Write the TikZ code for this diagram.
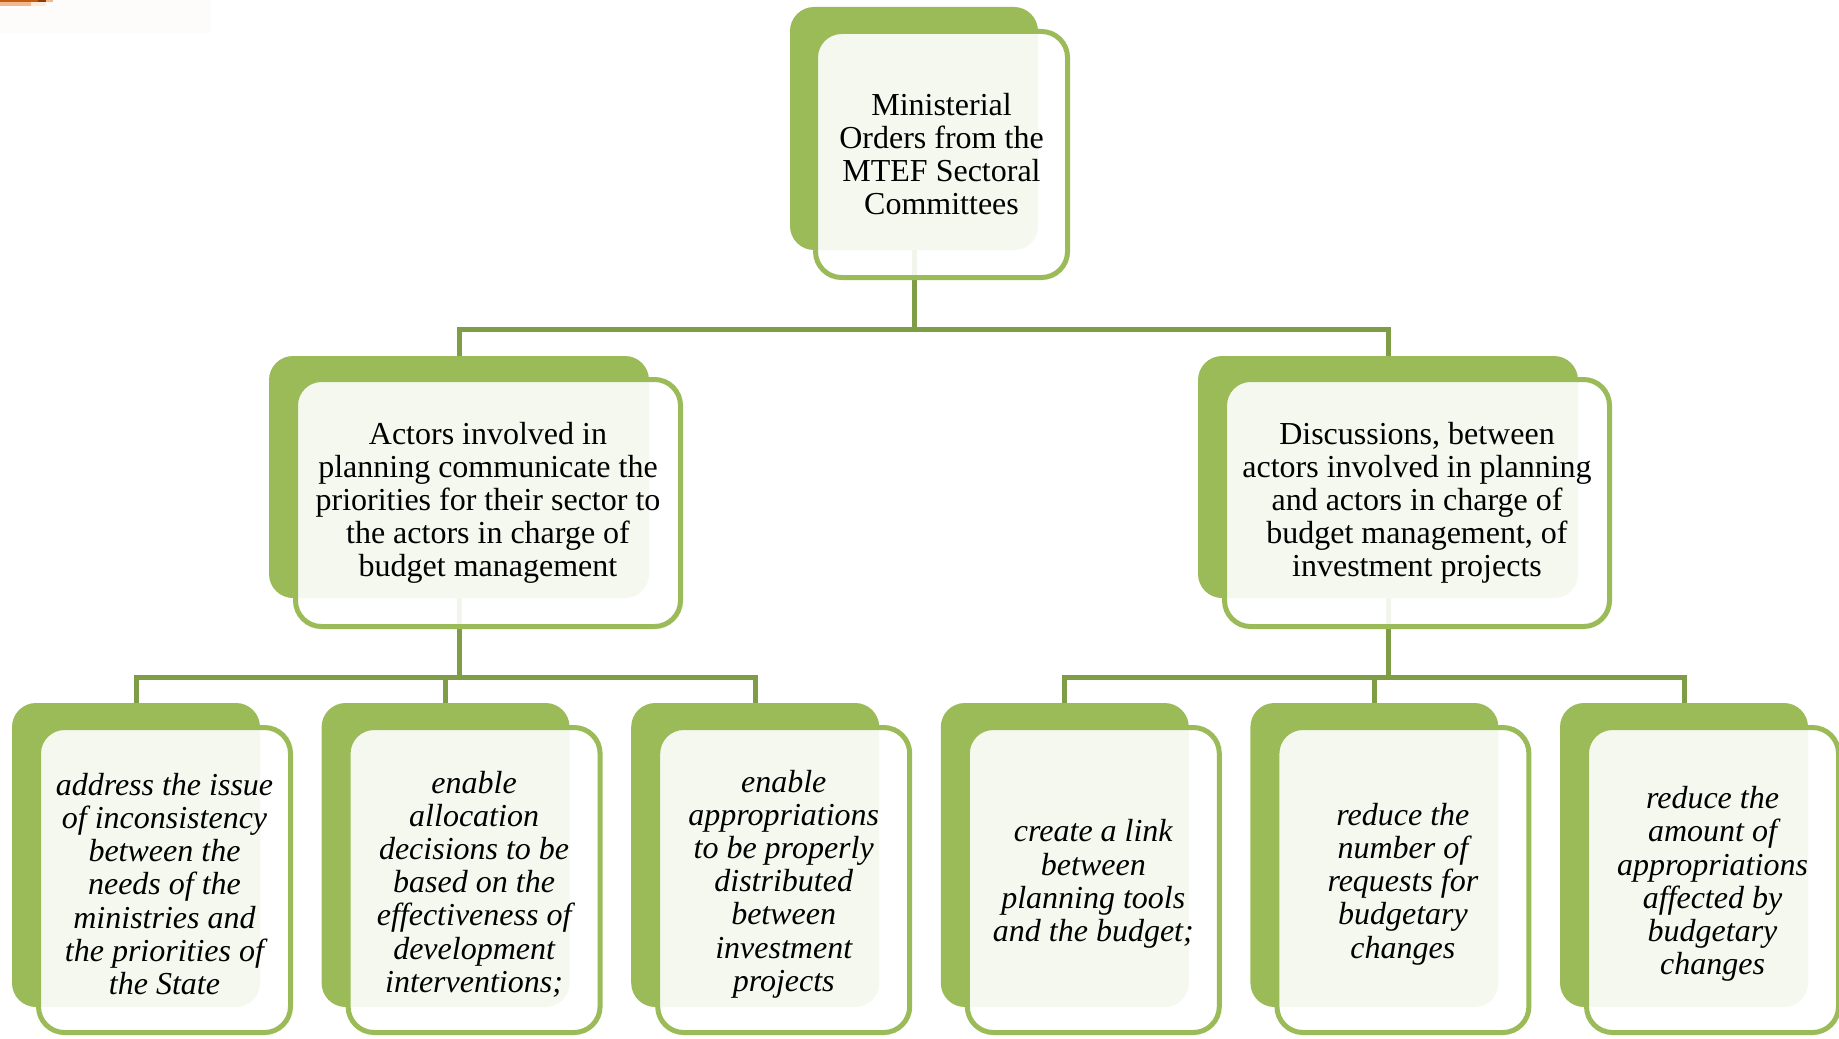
\documentclass[tikz,border=0pt]{standalone}
\usepackage{fontspec}
\setmainfont{Liberation Serif}
\usetikzlibrary{backgrounds}
\definecolor{leafgreen}{HTML}{9BBB59}
\definecolor{linkgreen}{HTML}{7F9C47}
\definecolor{paper}{HTML}{FDFCFA}
\definecolor{rust}{HTML}{C55A11}
\definecolor{rustdark}{HTML}{8A3E0E}
\definecolor{peach}{HTML}{F2B98E}
\definecolor{cream}{HTML}{FBEBD8}
\tikzset{
  back/.style={rectangle, rounded corners=12pt, fill=leafgreen,
    inner sep=0pt, outer sep=0pt, anchor=north west},
  card/.style={rectangle, rounded corners=13pt, draw=leafgreen, line width=2.5pt,
    fill=white, fill opacity=0.9, text opacity=1, draw opacity=1,
    inner sep=0pt, outer sep=0pt, anchor=north west, align=center,
    font=\fontsize{16pt}{16.5pt}\selectfont},
  cardtext/.style={inner sep=0pt, align=center,
    font=\fontsize{16pt}{16.6pt}\selectfont\itshape},
  topback/.style={back, minimum width=124pt, minimum height=121.5pt},
  topcard/.style={card, minimum width=126pt, minimum height=123pt},
  midback/.style={back, minimum width=190pt, minimum height=121pt},
  midcard/.style={card, minimum width=192.5pt, minimum height=123.5pt},
  lowback/.style={back, minimum width=124pt, minimum height=152pt},
  lowcard/.style={card, minimum width=126pt, minimum height=152.5pt},
  link/.style={draw=linkgreen, line width=2.5pt, line join=miter},
}
\begin{document}
\begin{tikzpicture}[x=0.5pt, y=-0.5pt]
\useasboundingbox (0,0) rectangle (1839,1038);

% small marks in the upper left corner
\fill[paper] (0,0) rectangle (211,33);
\fill[rust] (0,0) rectangle (38,2.5);
\fill[rustdark] (38,0) rectangle (46,2.5);
\fill[peach] (46,0) rectangle (53,2.5);
\fill[peach] (0,2.5) rectangle (31,6);
\fill[cream] (31,2.5) rectangle (46,6);

% back plates
\node[topback] (g0) at (790,7) {};
\node[midback] (gL) at (269,356) {};
\node[midback] (gR) at (1198,356) {};
\foreach \i in {1,...,6}
  \node[lowback] (g\i) at ({12+309.6*(\i-1)},703) {};

% connectors, kept under the plates and cards
\coordinate (j0) at (914,329);
\coordinate (jL) at (459,677);
\coordinate (jR) at (1388,677);
\begin{scope}[on background layer]
\draw[link] (g0.south) -- (j0);
\draw[link] (gL.north) |- (j0) -| (gR.north);
\draw[link] (gL.south) -- (jL);
\draw[link] (g1.north) |- (jL) -| (g3.north);
\draw[link] (g2.north) -- (g2.north |- jL);
\draw[link] (gR.south) -- (jR);
\draw[link] (g4.north) |- (jR) -| (g6.north);
\draw[link] (g5.north) -- (g5.north |- jR);
\end{scope}

% upper cards with their text
\node[topcard] (t0) at (815.5,31.5)
  {Ministerial\\Orders from the\\MTEF Sectoral\\Committees};
\node[midcard] (tL) at (295.5,379.5)
  {Actors involved in\\planning communicate the\\priorities for their sector to\\the actors in charge of\\budget management};
\node[midcard] (tR) at (1224.5,379.5)
  {Discussions, between\\actors involved in planning\\and actors in charge of\\budget management, of\\investment projects};

% lower cards, text set slightly below centre
\foreach \i in {1,...,6}
  \node[lowcard] (c\i) at ({38.5+309.6*(\i-1)},727.5) {};
\node[cardtext] (t1) at ([yshift=-2pt]c1.center)
  {address the issue\\of inconsistency\\between the\\needs of the\\ministries and\\the priorities of\\the State};
\node[cardtext] (t2) at ([yshift=-2pt]c2.center)
  {enable\\allocation\\decisions to be\\based on the\\effectiveness of\\development\\interventions;};
\node[cardtext] (t3) at ([yshift=-2pt]c3.center)
  {enable\\appropriations\\to be properly\\distributed\\between\\investment\\projects};
\node[cardtext] (t4) at ([yshift=-2pt]c4.center)
  {create a link\\between\\planning tools\\and the budget;};
\node[cardtext] (t5) at ([yshift=-2pt]c5.center)
  {reduce the\\number of\\requests for\\budgetary\\changes};
\node[cardtext] (t6) at ([yshift=-2pt]c6.center)
  {reduce the\\amount of\\appropriations\\affected by\\budgetary\\changes};
\end{tikzpicture}
\end{document}
